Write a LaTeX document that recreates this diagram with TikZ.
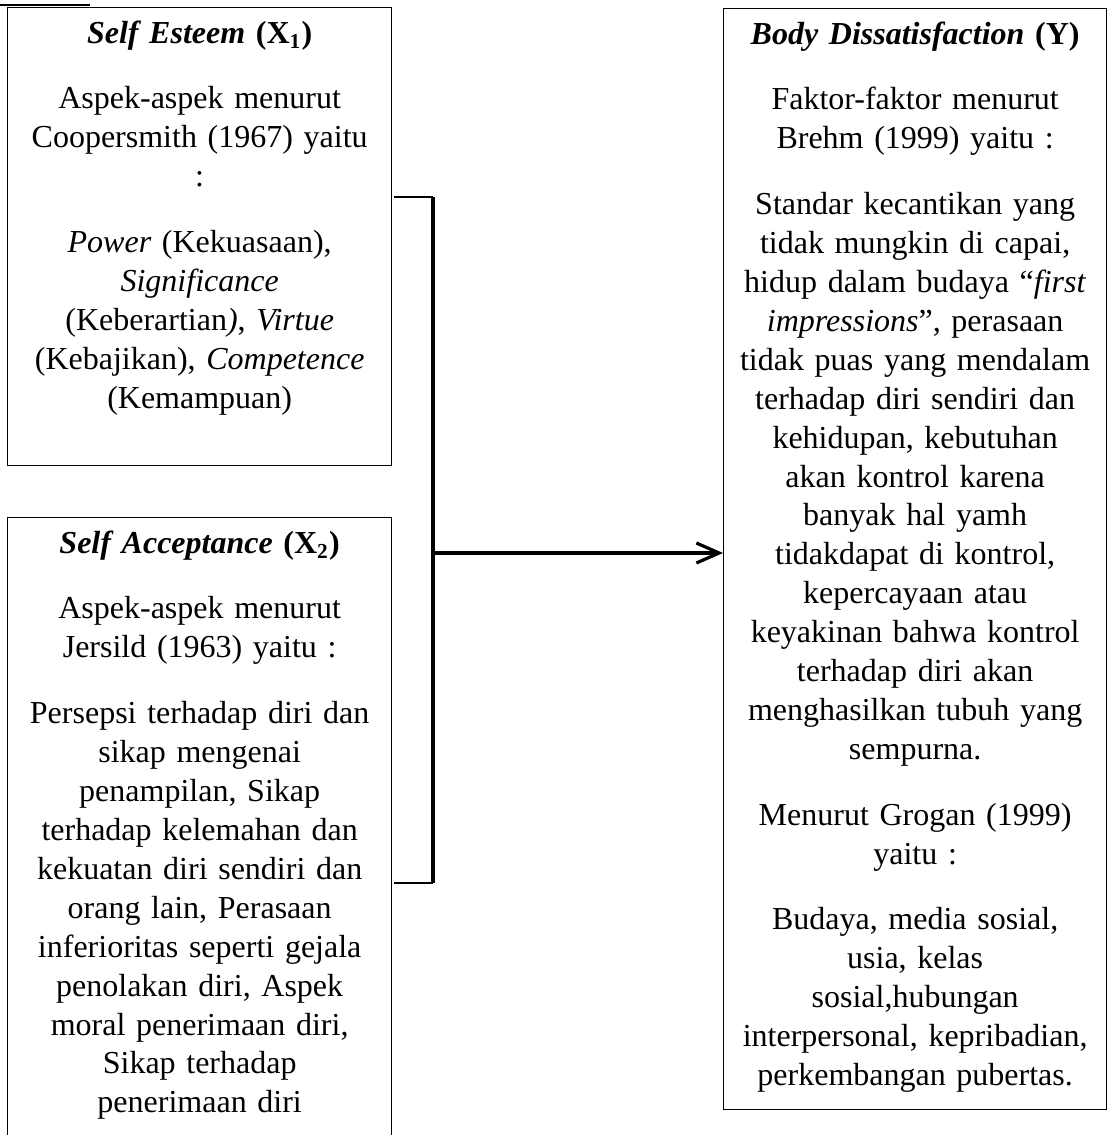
\documentclass[tikz,border=0pt]{standalone}
\usepackage{fontspec}
\setmainfont{Liberation Serif}
\usetikzlibrary{arrows.meta,positioning}

\tikzset{
  frame/.style={draw, line width=0.5pt, inner sep=0pt, anchor=north west},
  txt/.style={align=center, text width=140pt, inner sep=0pt,
    font=\fontsize{12}{14.6}\selectfont},
  link/.style={line width=1.2pt},
  tick/.style={line width=0.45pt}
}
\newcommand{\pgap}{\\[10pt]}

\begin{document}
\begin{tikzpicture}[x=0.375pt,y=-0.375pt]
\useasboundingbox (0,0) rectangle (1107,1135);
\draw[tick] (0,5) -- (90,5);

% Boxes
\node[frame, minimum width=144pt, minimum height=171.75pt] (se) at (7,7) {};
\node[frame, minimum width=144pt, minimum height=245pt] (sa) at (7,517) {};
\node[frame, minimum width=143.6pt, minimum height=412.9pt] (bd) at (723,8) {};

% Texts in the boxes
\node[txt, below=5pt of se.north] (setext) {%
\textbf{\textit{Self Esteem} (X\textsubscript{1})}\pgap
Aspek-aspek menurut\\
Coopersmith (1967) yaitu\\
:\pgap
\textit{Power} (Kekuasaan),\\
\textit{Significance}\\
(Keberartian\textit{)}, \textit{Virtue}\\
(Kebajikan), \textit{Competence}\\
(Kemampuan)};

\node[txt, below=5pt of sa.north] (satext) {%
\textbf{\textit{Self Acceptance} (X\textsubscript{2})}\pgap
Aspek-aspek menurut\\
Jersild (1963) yaitu :\pgap
Persepsi terhadap diri dan\\
sikap mengenai\\
penampilan, Sikap\\
terhadap kelemahan dan\\
kekuatan diri sendiri dan\\
orang lain, Perasaan\\
inferioritas seperti gejala\\
penolakan diri, Aspek\\
moral penerimaan diri,\\
Sikap terhadap\\
penerimaan diri};

\node[txt, below=5pt of bd.north] (bdtext) {%
\textbf{\textit{Body Dissatisfaction} (Y)}\pgap
Faktor-faktor menurut\\
Brehm (1999) yaitu :\pgap
Standar kecantikan yang\\
tidak mungkin di capai,\\
hidup dalam budaya “\textit{first}\\
\textit{impressions}”, perasaan\\
tidak puas yang mendalam\\
terhadap diri sendiri dan\\
kehidupan, kebutuhan\\
akan kontrol karena\\
banyak hal yamh\\
tidakdapat di kontrol,\\
kepercayaan atau\\
keyakinan bahwa kontrol\\
terhadap diri akan\\
menghasilkan tubuh yang\\
sempurna.\pgap
Menurut Grogan (1999)\\
yaitu :\pgap
Budaya, media sosial,\\
usia, kelas\\
sosial,hubungan\\
interpersonal, kepribadian,\\
perkembangan pubertas.};

% Bracket joining X1 and X2
\coordinate (stubtop) at (394,197);
\coordinate (stubbot) at (394,883);
\coordinate (jtop) at (433,197);
\coordinate (jbot) at (433,883);
\coordinate (jmid) at (433,553);
\draw[tick] (stubtop) -- (jtop);
\draw[tick] (stubbot) -- (jbot);
\draw[link] (jtop) -- (jbot);

% Arrow to Y
\draw[link, -{Straight Barb[length=8.5pt,width=7.5pt]}] (jmid) -- (bd.west |- jmid);

\end{tikzpicture}
\end{document}
